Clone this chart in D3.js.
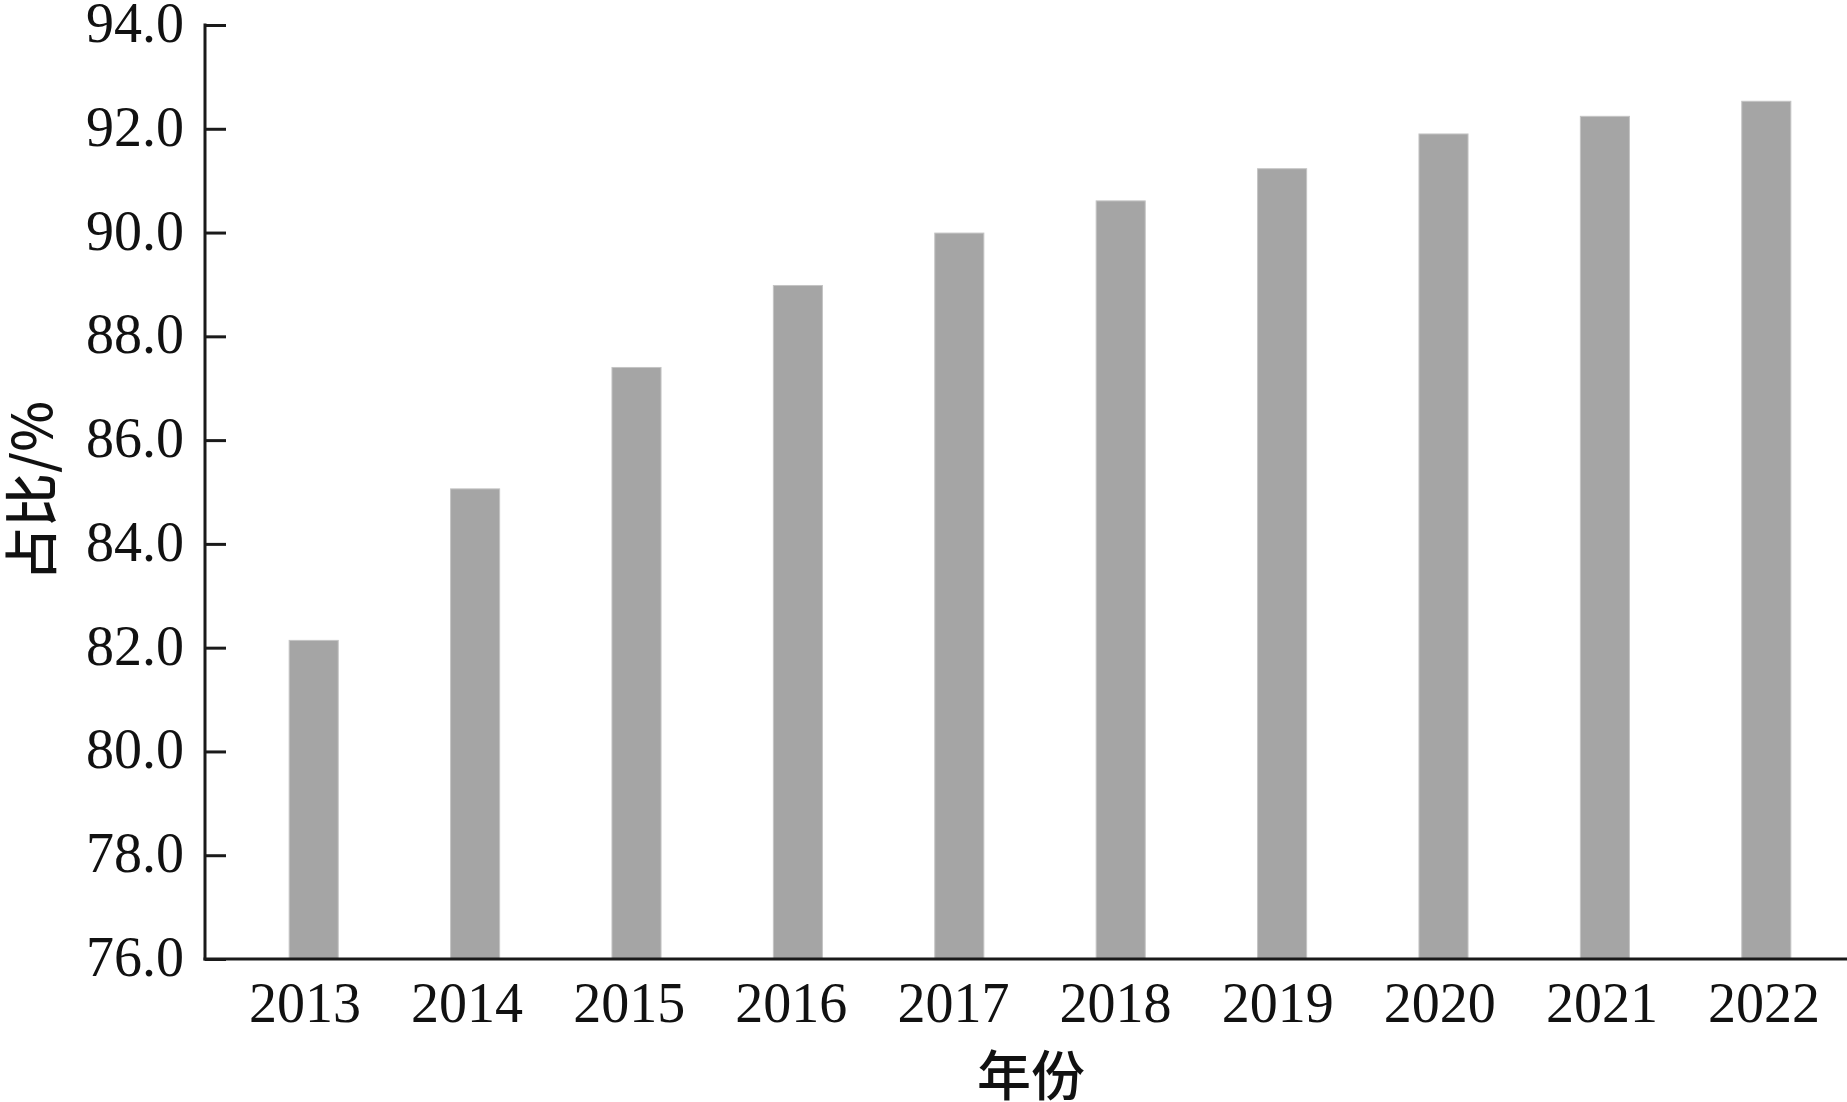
<!DOCTYPE html>
<html>
<head>
<meta charset="utf-8">
<script src="https://cdn.jsdelivr.net/npm/d3@7"></script>
<style>
  html, body { margin: 0; padding: 0; background: #fff; }
  svg { display: block; }
</style>
</head>
<body>
<svg id="chart" width="1847" height="1102"></svg>
<script>
const years = ["2013", "2014", "2015", "2016", "2017", "2018", "2019", "2020", "2021", "2022"];
const shares = [82.14, 85.06, 87.40, 88.98, 89.99, 90.61, 91.23, 91.90, 92.24, 92.53];
const yTicks = [76, 78, 80, 82, 84, 86, 88, 90, 92, 94];
const xTitle = "年份";
const yTitle = "占比/%";

const svg = d3.select("#chart");
const W = 1847, H = 1102;
const axisX = 205, axisY = 959, topY = 25;

const x = d3.scaleBand()
  .domain(years)
  .range([233, 1847])
  .paddingInner(0.696)
  .paddingOuter(0.348);

// tick labels sit on a slightly different spacing than the bars in the reference
const xLabel = d3.scalePoint().domain(years).range([305, 1764]);

const y = d3.scaleLinear().domain([76, 94]).range([axisY, topY]);

const serif = "'Liberation Serif', 'DejaVu Serif', serif";

// bars
svg.append("g").selectAll("rect")
  .data(years)
  .join("rect")
  .attr("x", d => x(d))
  .attr("width", x.bandwidth())
  .attr("y", (d, i) => y(shares[i]))
  .attr("height", (d, i) => axisY - y(shares[i]))
  .attr("fill", "#a5a5a5")
  .attr("stroke", "#c4c4c4")
  .attr("stroke-width", 1);

// y axis (ticks inward)
const yAxis = d3.axisRight(y).tickValues(yTicks).tickSize(21).tickFormat("");
const gy = svg.append("g").attr("transform", `translate(${axisX},0)`).call(yAxis);
gy.select(".domain").remove();
gy.selectAll(".tick line").attr("stroke", "#1a1a1a").attr("stroke-width", 3);
gy.append("line").attr("x1", 0).attr("x2", 0).attr("y1", topY - 1.5).attr("y2", axisY + 1.5)
  .attr("stroke", "#1a1a1a").attr("stroke-width", 3);

// y tick labels
svg.append("g").selectAll("text")
  .data(yTicks)
  .join("text")
  .attr("x", 184)
  .attr("y", d => y(d) + 17)
  .attr("text-anchor", "end")
  .attr("font-family", serif)
  .attr("font-size", 56)
  .attr("fill", "#111")
  .text(d => d.toFixed(1));

// x axis
const xAxis = d3.axisBottom(x).tickSize(0).tickFormat("");
const gx = svg.append("g").attr("transform", `translate(0,${axisY})`).call(xAxis);
gx.select(".domain").remove();
gx.append("line").attr("x1", axisX - 1.5).attr("x2", W).attr("y1", 0).attr("y2", 0)
  .attr("stroke", "#1a1a1a").attr("stroke-width", 3);

svg.append("g").selectAll("text")
  .data(years)
  .join("text")
  .attr("x", d => xLabel(d))
  .attr("y", 1022)
  .attr("text-anchor", "middle")
  .attr("font-family", serif)
  .attr("font-size", 56)
  .attr("fill", "#111")
  .text(d => d);

// axis titles
svg.append("text")
  .attr("x", 1031)
  .attr("y", 1072)
  .attr("text-anchor", "middle")
  .attr("dominant-baseline", "central")
  .attr("font-family", "'Noto Sans CJK SC', sans-serif")
  .attr("font-weight", 500)
  .attr("font-size", 54)
  .attr("fill", "#111")
  .text(xTitle);

svg.append("text")
  .attr("transform", "translate(28,491) rotate(-90)")
  .attr("text-anchor", "middle")
  .attr("dominant-baseline", "central")
  .attr("font-family", "'Noto Sans CJK SC', sans-serif")
  .attr("font-weight", 500)
  .attr("font-size", 54)
  .attr("fill", "#111")
  .text(yTitle);
</script>
</body>
</html>
